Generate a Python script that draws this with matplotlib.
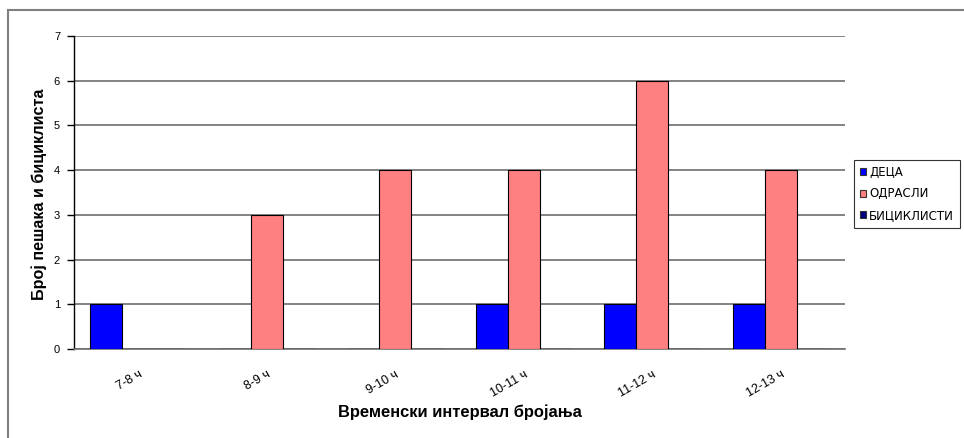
import matplotlib
matplotlib.use("Agg")
import matplotlib.pyplot as plt
from matplotlib.lines import Line2D
from matplotlib.patches import Patch
import numpy as np

plt.rcParams['font.family'] = ['Liberation Sans', 'DejaVu Sans']

categories = ["7-8 ч", "8-9 ч", "9-10 ч", "10-11 ч", "11-12 ч", "12-13 ч"]
series_names = ["ДЕЦА", "ОДРАСЛИ", "БИЦИКЛИСТИ"]
deca = [1, 0, 0, 1, 1, 1]
odrasli = [0, 3, 4, 4, 6, 4]
biciklisti = [0, 0, 0, 0, 0, 0]
colors = ["#0000FF", "#FF8080", "#000080"]

W, H = 964, 438
fig = plt.figure(figsize=(W / 100, H / 100), dpi=100)
fig.patch.set_facecolor("white")

ax = fig.add_axes([74 / W, 89 / H, 771 / W, 313 / H])

x = np.arange(len(categories))
bw = 0.25
for i, (vals, col) in enumerate(zip([deca, odrasli, biciklisti], colors)):
    ax.bar(x - bw + i * bw, vals, width=bw, color=col, edgecolor="black",
           linewidth=0.8, zorder=3)

ax.set_xlim(-0.5, len(categories) - 0.5)
ax.set_ylim(0, 7)
ax.set_yticks(range(0, 8))
ax.yaxis.grid(True, color="#6e6e6e", linewidth=1.2, zorder=0)
ax.set_axisbelow(True)

for s in ["top", "right"]:
    ax.spines[s].set_visible(False)
ax.spines["left"].set_color("black")
ax.spines["left"].set_linewidth(1.0)
ax.spines["bottom"].set_color("#6e6e6e")
ax.spines["bottom"].set_linewidth(1.2)

ax.tick_params(axis="y", length=5, width=1, color="black", labelsize=8, pad=5)
ax.tick_params(axis="x", length=0, labelsize=9, pad=14)
ax.set_xticks(x)
ax.set_xticklabels(categories, rotation=30, ha="right", va="top",
                   rotation_mode="anchor")

fig.text(460 / W, (H - 412) / H, "Временски интервал бројања", fontsize=11.9,
         fontweight="bold", ha="center", va="center")
fig.text(39 / W, (H - 194) / H, "Број пешака и бициклиста", fontsize=11.6,
         fontweight="bold", ha="center", va="center", rotation=90)

handles = [Patch(facecolor=c, edgecolor="#333333", linewidth=0.8) for c in colors]
leg = fig.legend(handles, series_names, loc="upper left",
                 bbox_to_anchor=(854 / W, (H - 160) / H),
                 prop={"family": "DejaVu Sans", "size": 8.5},
                 frameon=True, fancybox=False,
                 handlelength=0.55, handleheight=0.55, handletextpad=0.25,
                 borderpad=0.5, labelspacing=0.72, borderaxespad=0)
leg.get_frame().set_edgecolor("black")
leg.get_frame().set_linewidth(0.8)

# outer chart border
fig.add_artist(Line2D([8 / W, 1], [(H - 9.5) / H] * 2, transform=fig.transFigure,
                      color="#808080", linewidth=1.5))
fig.add_artist(Line2D([8 / W] * 2, [0, (H - 9.5) / H], transform=fig.transFigure,
                      color="#808080", linewidth=1.5))

fig.savefig("out.png", dpi=100, facecolor="white")
